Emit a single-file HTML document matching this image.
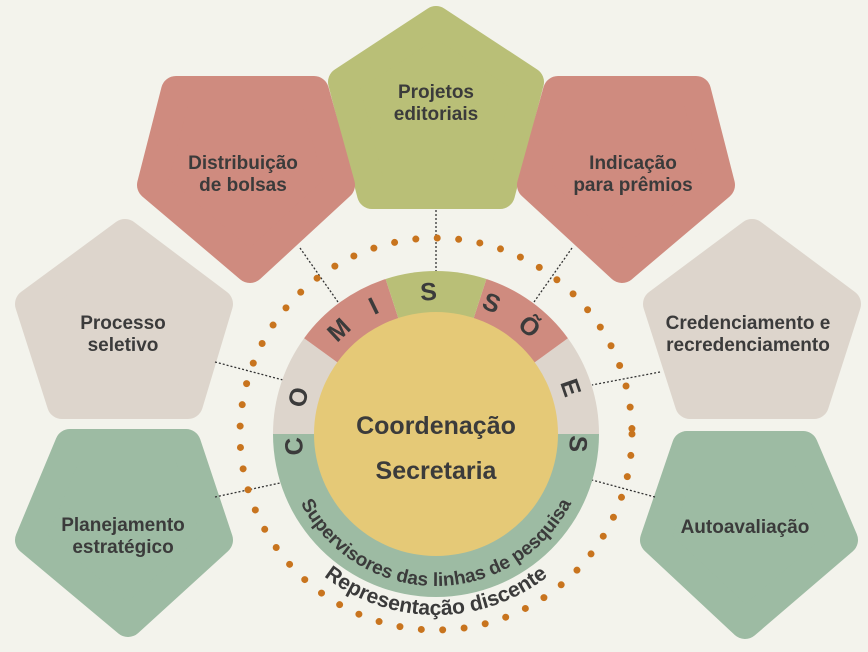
<!DOCTYPE html>
<html><head><meta charset="utf-8"><style>
html,body{margin:0;padding:0;background:#f3f3ec;}
svg{display:block;}
text{font-family:"Liberation Sans",sans-serif;font-weight:bold;fill:#3b3b3b;}
</style></head><body>
<svg width="868" height="652" viewBox="0 0 868 652" xmlns="http://www.w3.org/2000/svg">
<rect width="868" height="652" fill="#f3f3ec"/>
<g stroke-linejoin="round" stroke-width="30">
<polygon points="436,21 529,82 500,194 372,194 343,82" fill="#b9bf77" stroke="#b9bf77"/>
<polygon points="176,91 314,91 340,185 250,268 152,185" fill="#cf8b7f" stroke="#cf8b7f"/>
<polygon points="558,91 696,91 720,185 622,268 532,185" fill="#cf8b7f" stroke="#cf8b7f"/>
<polygon points="125,234 218,304 188,404 62,404 30,304" fill="#ddd5cc" stroke="#ddd5cc"/>
<polygon points="752,234 846,304 814,404 690,404 658,304" fill="#ddd5cc" stroke="#ddd5cc"/>
<polygon points="70,444 186,444 218,540 128,622 30,540" fill="#9dbba3" stroke="#9dbba3"/>
<polygon points="687,446 803,446 843,540 745,624 655,540" fill="#9dbba3" stroke="#9dbba3"/>
</g>
<g stroke="#333" stroke-width="1.3" stroke-dasharray="2 2">
<line x1="436" y1="210" x2="436" y2="272"/>
<line x1="300" y1="248" x2="338" y2="302"/>
<line x1="572" y1="248" x2="534" y2="302"/>
<line x1="215" y1="362" x2="283" y2="380"/>
<line x1="660" y1="372" x2="592" y2="385"/>
<line x1="215" y1="497" x2="280" y2="483"/>
<line x1="655" y1="497" x2="592" y2="480"/>
</g>
<circle cx="436" cy="434" r="196" fill="none" stroke="#c8741e" stroke-width="7" stroke-linecap="round" stroke-dasharray="0 21.5"/>
<g transform="translate(436,434)">
<path d="M-163,0 A163,163 0 0 0 163,0 Z" fill="#9dbba3"/>
<path d="M-163,0 A163,163 0 0 1 -131.9,-95.8 L0,0 Z" fill="#ddd5cc"/>
<path d="M163,0 A163,163 0 0 0 131.9,-95.8 L0,0 Z" fill="#ddd5cc"/>
<path d="M-131.9,-95.8 A163,163 0 0 1 -50.4,-155 L0,0 Z" fill="#cf8b7f"/>
<path d="M131.9,-95.8 A163,163 0 0 0 50.4,-155 L0,0 Z" fill="#cf8b7f"/>
<path d="M-50.4,-155 A163,163 0 0 1 50.4,-155 L0,0 Z" fill="#b9bf77"/>
<circle r="122" fill="#e5c977"/>
<g font-size="25" text-anchor="middle">
<text transform="rotate(-95) translate(0,-134)">C</text>
<text transform="rotate(-75) translate(0,-134)">O</text>
<text transform="rotate(-43) translate(0,-134)">M</text>
<text transform="rotate(-26) translate(0,-134)">I</text>
<text transform="rotate(-3) translate(0,-134)">S</text>
<text transform="rotate(23) translate(0,-134)">S</text>
<text transform="rotate(41) translate(0,-134)">Õ</text>
<text transform="rotate(71) translate(0,-134)">E</text>
<text transform="rotate(94) translate(0,-134)">S</text>
</g>
</g>
<defs>
<path id="p1" d="M284,434 A152,152 0 0 0 588,434"/>
<path id="p2" d="M255,434 A181,181 0 0 0 617,434"/>
</defs>
<text font-size="19"><textPath href="#p1" startOffset="50%" text-anchor="middle">Supervisores das linhas de pesquisa</textPath></text>
<text font-size="21"><textPath href="#p2" startOffset="50%" text-anchor="middle">Representação discente</textPath></text>
<g font-size="25" text-anchor="middle">
<text x="436" y="434">Coordenação</text>
<text x="436" y="479">Secretaria</text>
</g>
<g font-size="19" text-anchor="middle">
<text x="436" y="98">Projetos</text><text x="436" y="120">editoriais</text>
<text x="243" y="169">Distribuição</text><text x="243" y="191">de bolsas</text>
<text x="633" y="169">Indicação</text><text x="633" y="191">para prêmios</text>
<text x="123" y="329">Processo</text><text x="123" y="351">seletivo</text>
<text x="748" y="329">Credenciamento e</text><text x="748" y="351">recredenciamento</text>
<text x="123" y="531">Planejamento</text><text x="123" y="553">estratégico</text>
<text x="745" y="533">Autoavaliação</text>
</g>
</svg>
</body></html>
